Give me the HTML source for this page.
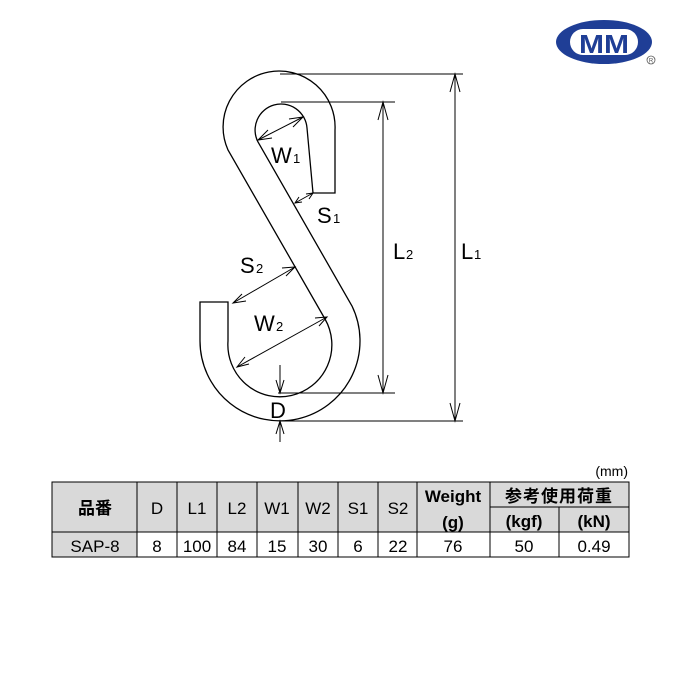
<!DOCTYPE html>
<html><head><meta charset="utf-8"><style>
html,body{margin:0;padding:0;background:#fff;}
svg{display:block;}
text{font-family:"Liberation Sans","Noto Sans CJK JP",sans-serif;}
</style></head><body>
<svg width="680" height="680" viewBox="0 0 680 680" xmlns="http://www.w3.org/2000/svg">
<!-- logo -->
<ellipse cx="604" cy="42" rx="48" ry="22" fill="#1f3e96"/>
<rect x="570" y="29" width="68" height="26" rx="13" fill="#fff"/>
<text x="604" y="53" font-size="26" font-weight="bold" fill="#1f3e96" text-anchor="middle" textLength="50" lengthAdjust="spacingAndGlyphs">MM</text>
<circle cx="651" cy="60" r="4" fill="none" stroke="#555" stroke-width="0.8"/>
<text x="651" y="62.5" font-size="6" fill="#555" text-anchor="middle">R</text>

<!-- hook -->
<g fill="none" stroke="#000" stroke-width="1.3">
<path d="M335,193 L335,130 A56,56 0 1 0 228,150 L325,319 A52,52 0 1 1 228,341 L228,302 L200,302 L200,341 A80,80 0 1 0 352,306 L258,142 A26,26 0 1 1 307,128 L313,193 Z"/>
</g>
<!-- dimension lines -->
<g stroke="#000" stroke-width="1" fill="none">
<line x1="280" y1="74" x2="463" y2="74"/>
<line x1="280" y1="421" x2="463" y2="421"/>
<line x1="455" y1="74" x2="455" y2="421"/>
<polyline points="450,92 455,74 460,92"/><polyline points="450,403 455,421 460,403"/>
<line x1="281" y1="102" x2="395" y2="102"/>
<line x1="278" y1="393" x2="395" y2="393"/>
<line x1="383" y1="102" x2="383" y2="393"/>
<polyline points="378,120 383,102 388,120"/><polyline points="378,375 383,393 388,375"/>
<line x1="280" y1="365" x2="280" y2="393"/><polyline points="276,380 280,393 284,380"/>
<line x1="280" y1="421" x2="280" y2="442"/><polyline points="276,434 280,421 284,434"/>
<line x1="258" y1="140" x2="303" y2="117"/><polyline points="268,130 258,140 272,138"/><polyline points="289,119 303,117 293,127"/>
<line x1="295" y1="203" x2="313" y2="193"/><polyline points="299,197 295,203 302,202"/><polyline points="306,194 313,193 309,199"/>
<line x1="233" y1="303" x2="295" y2="267"/><polyline points="242,294 233,303 246,301"/><polyline points="282,268 295,267 286,276"/>
<line x1="237" y1="367" x2="327" y2="317"/><polyline points="245,357 237,367 249,364"/><polyline points="315,318 327,317 319,326"/>
</g>
<g font-size="22" fill="#000">
<text x="271" y="163">W</text><text x="293" y="163" font-size="13">1</text>
<text x="317" y="223">S</text><text x="333" y="223" font-size="13">1</text>
<text x="240" y="273">S</text><text x="256" y="273" font-size="13">2</text>
<text x="254" y="331">W</text><text x="276" y="331" font-size="13">2</text>
<text x="393" y="259">L</text><text x="406" y="259" font-size="13">2</text>
<text x="461" y="259">L</text><text x="474" y="259" font-size="13">1</text>
<text x="270" y="418">D</text>
</g>

<!-- table -->
<text x="628" y="476" font-size="14" text-anchor="end">(mm)</text>
<rect x="52" y="482" width="577" height="50" fill="#d9d9d9"/>
<rect x="52" y="532" width="85" height="25" fill="#d9d9d9"/>
<g stroke="#000" stroke-width="1" fill="none">
<rect x="52" y="482" width="577" height="75"/>
<line x1="52" y1="532" x2="629" y2="532"/>
<line x1="490" y1="507" x2="629" y2="507"/>
<line x1="137" y1="482" x2="137" y2="557"/>
<line x1="177" y1="482" x2="177" y2="557"/>
<line x1="217" y1="482" x2="217" y2="557"/>
<line x1="257" y1="482" x2="257" y2="557"/>
<line x1="298" y1="482" x2="298" y2="557"/>
<line x1="338" y1="482" x2="338" y2="557"/>
<line x1="378" y1="482" x2="378" y2="557"/>
<line x1="417" y1="482" x2="417" y2="557"/>
<line x1="490" y1="482" x2="490" y2="557"/>
<line x1="559" y1="507" x2="559" y2="557"/>
</g>
<g font-size="17" text-anchor="middle" fill="#000">
<text x="95" y="514" font-weight="bold">品番</text>
<text x="157" y="514">D</text>
<text x="197" y="514">L1</text>
<text x="237" y="514">L2</text>
<text x="277" y="514">W1</text>
<text x="318" y="514">W2</text>
<text x="358" y="514">S1</text>
<text x="398" y="514">S2</text>
<text x="453" y="502" font-weight="bold">Weight</text>
<text x="453" y="528" font-weight="bold">(g)</text>
<text x="559" y="502" font-weight="bold" letter-spacing="1">参考使用荷重</text>
<text x="524" y="527" font-weight="bold">(kgf)</text>
<text x="594" y="527" font-weight="bold">(kN)</text>
<text x="95" y="552">SAP-8</text>
<text x="157" y="552">8</text>
<text x="197" y="552">100</text>
<text x="237" y="552">84</text>
<text x="277" y="552">15</text>
<text x="318" y="552">30</text>
<text x="358" y="552">6</text>
<text x="398" y="552">22</text>
<text x="453" y="552">76</text>
<text x="524" y="552">50</text>
<text x="594" y="552">0.49</text>
</g>
</svg>
</body></html>
